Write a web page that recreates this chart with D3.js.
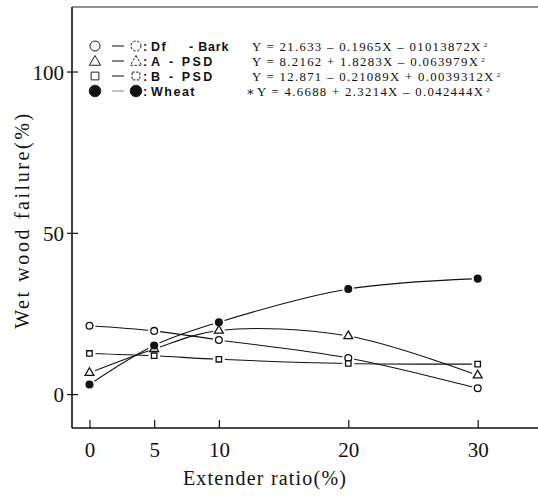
<!DOCTYPE html>
<html>
<head>
<meta charset="utf-8">
<script src="https://cdn.jsdelivr.net/npm/d3@7"></script>
<style>
  body { margin: 0; background: #fff; }
  svg { display: block; }
  .tick-label { font-family: "Liberation Serif", "DejaVu Serif", serif; font-size: 21px; fill: #111; }
  .axis-title { font-family: "Liberation Serif", "DejaVu Serif", serif; font-size: 20px; fill: #111; }
  .leg-name { font-family: "Liberation Sans", Arial, sans-serif; font-size: 12.5px; font-weight: bold; fill: #111; }
  .leg-eq { font-family: "Liberation Serif", "DejaVu Serif", serif; font-size: 12.8px; fill: #111; }
</style>
</head>
<body>
<div id="chart-area"></div>
<script>
const W = 538, H = 501;
const margin = { left: 72, top: 7, right: 0, bottom: 73 };

// data
const ratios = [0, 5, 10, 20, 30];
const dfBark = [21.2, 19.6, 16.8, 11.2, 1.8];
const aPsd = [6.6, 14.0, 19.7, 18.0, 5.8];
const bPsd = [12.6, 11.9, 10.8, 9.5, 9.3];
const wheat = [3.0, 15.1, 22.3, 32.6, 35.8];

const seriesNames = ["Df - Bark", "A - PSD", "B - PSD", "Wheat"];
const equations = [
    "Y = 21.633 \u2013 0.1965X \u2013 01013872X",
    "Y = 8.2162 + 1.8283X \u2013 0.063979X",
    "Y = 12.871 \u2013 0.21089X + 0.0039312X",
    "Y = 4.6688 + 2.3214X \u2013 0.042444X"
];
const xTicks = [0, 5, 10, 20, 30];
const yTicks = [0, 50, 100];

const series = [
    { name: seriesNames[0], eq: equations[0], values: dfBark, shape: "circle", filled: false },
    { name: seriesNames[1], eq: equations[1], values: aPsd, shape: "triangle", filled: false },
    { name: seriesNames[2], eq: equations[2], values: bPsd, shape: "square", filled: false },
    { name: seriesNames[3], eq: equations[3], values: wheat, shape: "circle", filled: true }
];

const svg = d3.select("#chart-area").append("svg")
    .attr("width", W).attr("height", H);

const x = d3.scaleLinear().domain([-1.35, 34.66]).range([margin.left, W - margin.right]);
const y = d3.scaleLinear().domain([-10.5, 120]).range([H - margin.bottom, margin.top]);

const symType = { circle: d3.symbolCircle, triangle: d3.symbolTriangle, square: d3.symbolSquare };

// frame: left, bottom and top lines
svg.append("line").attr("x1", x.range()[0]).attr("x2", x.range()[0])
    .attr("y1", y.range()[1]).attr("y2", y.range()[0])
    .attr("stroke", "#111").attr("stroke-width", 1.6);
svg.append("line").attr("x1", x.range()[0]).attr("x2", x.range()[1])
    .attr("y1", y.range()[0]).attr("y2", y.range()[0])
    .attr("stroke", "#111").attr("stroke-width", 1.6);
svg.append("line").attr("x1", x.range()[0]).attr("x2", x.range()[1])
    .attr("y1", y.range()[1]).attr("y2", y.range()[1])
    .attr("stroke", "#222").attr("stroke-width", 1.2);

// x axis (ticks inward)
const xAxis = svg.append("g").attr("transform", `translate(0,${y.range()[0]})`)
    .call(d3.axisBottom(x).tickValues(xTicks).tickSize(-8).tickPadding(14));
xAxis.select(".domain").remove();
xAxis.selectAll(".tick line").attr("stroke", "#111").attr("stroke-width", 1.2);
xAxis.selectAll(".tick text").attr("class", "tick-label").attr("font-family", null).attr("font-size", null);

// y axis (ticks crossing the axis)
const yAxis = svg.append("g").attr("transform", `translate(${x.range()[0]},0)`)
    .call(d3.axisLeft(y).tickValues(yTicks).tickSize(5).tickPadding(3));
yAxis.select(".domain").remove();
yAxis.selectAll(".tick line").attr("x2", 6).attr("x1", -5).attr("stroke", "#111").attr("stroke-width", 1.2);
yAxis.selectAll(".tick text").attr("class", "tick-label").attr("font-family", null).attr("font-size", null)
    .attr("dy", "0.36em");

// axis titles
svg.append("text").attr("class", "axis-title")
    .attr("transform", `translate(29,220) rotate(-90)`)
    .attr("text-anchor", "middle").attr("letter-spacing", "2.6px")
    .text("Wet wood failure(%)");
svg.append("text").attr("class", "axis-title")
    .attr("x", 265).attr("y", 485)
    .attr("text-anchor", "middle").attr("letter-spacing", "1.2px")
    .text("Extender ratio(%)");

// lines
const line = d3.line()
    .x((d, i) => x(ratios[i]))
    .y(d => y(d))
    .curve(d3.curveCatmullRom.alpha(0.5));

svg.append("g").selectAll("path").data(series).join("path")
    .attr("d", d => line(d.values))
    .attr("fill", "none").attr("stroke", "#111").attr("stroke-width", 1.1);

// markers with white halo to break the lines
const marks = svg.append("g");
series.forEach(s => {
    marks.append("g").selectAll("circle").data(s.values).join("circle")
        .attr("cx", (d, i) => x(ratios[i])).attr("cy", d => y(d))
        .attr("r", 6).attr("fill", "#fff");
});
series.forEach(s => {
    const size = s.shape === "square" ? 30 : s.shape === "triangle" ? 34 : 36;
    marks.append("g").selectAll("path").data(s.values).join("path")
        .attr("transform", (d, i) => `translate(${x(ratios[i])},${y(d)})`)
        .attr("d", d3.symbol(symType[s.shape], size)())
        .attr("fill", s.filled ? "#111" : "#fff")
        .attr("stroke", "#111").attr("stroke-width", 1.3);
});

// legend
const legRows = [46, 61, 76, 91];
const restX = [189, 169, 169, 0];
const restSpacing = [0.8, 2.5, 2.5, 0];
const leg = svg.append("g");
series.forEach((s, i) => {
    const yy = legRows[i];
    const big = s.filled ? 105 : s.shape === "square" ? 60 : s.shape === "triangle" ? 55 : 78;
    [95, 136].forEach((cx, j) => {
        leg.append("path")
            .attr("transform", `translate(${cx},${yy + (s.shape === "triangle" ? 1 : 0)})`)
            .attr("d", d3.symbol(symType[s.shape], big)())
            .attr("fill", s.filled ? "#111" : "#fff")
            .attr("stroke", "#222").attr("stroke-width", 1)
            .attr("stroke-dasharray", j === 1 && !s.filled ? "2.5,1.5" : null);
    });
    leg.append("line").attr("x1", 112).attr("x2", 124).attr("y1", yy).attr("y2", yy)
        .attr("stroke", s.filled ? "#999" : "#333").attr("stroke-width", 1.2);
    leg.append("text").attr("class", "leg-name").attr("x", 143).attr("y", yy + 4.5)
        .text(":");
    const parts = s.name.split(" - ");
    leg.append("text").attr("class", "leg-name").attr("x", 151).attr("y", yy + 4.5)
        .attr("letter-spacing", "1.5px").text(parts[0]);
    if (parts.length > 1) {
        leg.append("text").attr("class", "leg-name").attr("x", restX[i]).attr("y", yy + 4.5)
            .attr("xml:space", "preserve").attr("letter-spacing", restSpacing[i] + "px")
            .text("- " + parts[1]);
    }
    if (i === 3) {
        leg.append("text").attr("class", "leg-eq").attr("x", 246).attr("y", yy + 4.5).text("\u2217");
    }
    const eq = leg.append("text").attr("class", "leg-eq")
        .attr("x", i === 3 ? 257 : 252).attr("y", yy + 4.5)
        .attr("letter-spacing", "1.3px");
    eq.append("tspan").text(s.eq);
    eq.append("tspan").attr("font-size", "7px").attr("dx", 2).attr("dy", -4).text("2");
});
</script>
</body>
</html>
